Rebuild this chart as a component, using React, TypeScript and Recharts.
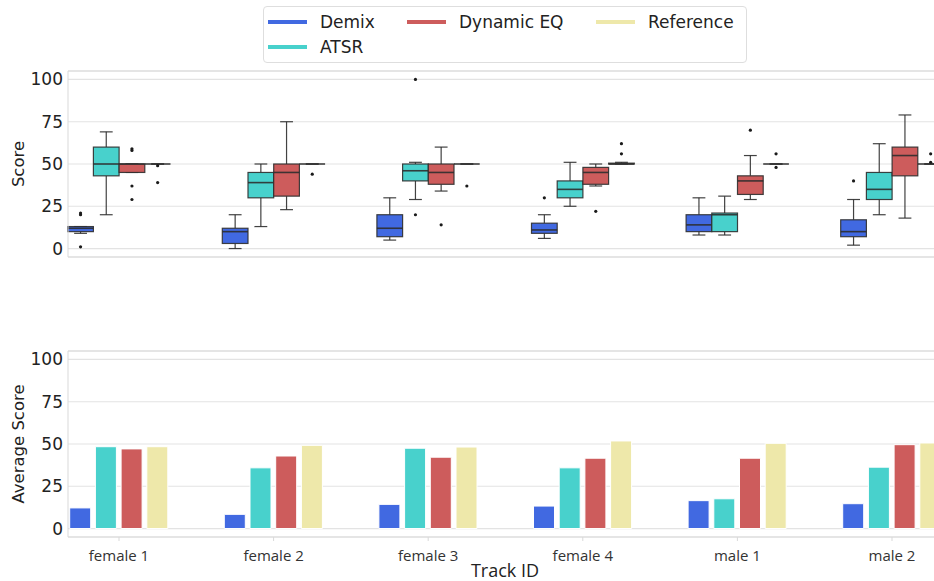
import React from "react";
import {
  ComposedChart,
  BarChart,
  Bar,
  XAxis,
  YAxis,
  CartesianGrid,
  ReferenceLine,
  Legend,
} from "recharts";

// track ids on the x axis
const categories = ["female 1", "female 2", "female 3", "female 4", "male 1", "male 2"];

// box stats per track: [whisker low, q1, median, q3, whisker high]
const demixBox = [
  [9, 10, 12, 13, 13],
  [0, 3, 10, 12, 20],
  [5, 7, 12, 20, 30],
  [6, 9, 11, 15, 20],
  [8, 10, 14, 20, 30],
  [2, 7, 10, 17, 29],
];
const atsrBox = [
  [20, 43, 50, 60, 69],
  [13, 30, 39, 45, 50],
  [29, 40, 46, 50, 51],
  [25, 30, 35, 40, 51],
  [8, 10, 20, 21, 31],
  [20, 29, 35, 45, 62],
];
const dynEqBox = [
  [45, 45, 50, 50, 50],
  [23, 31, 45, 50, 75],
  [34, 38, 45, 50, 60],
  [37, 38, 45, 48, 50],
  [29, 32, 40, 43, 55],
  [18, 43, 55, 60, 79],
];
const refBox = [
  [50, 50, 50, 50, 50],
  [50, 50, 50, 50, 50],
  [50, 50, 50, 50, 50],
  [50, 50, 50, 50.5, 51],
  [50, 50, 50, 50, 50],
  [50, 50, 50, 50, 50],
];

// fliers per track
const demixOutliers = [[21, 20, 1], [], [], [30], [], [40]];
const atsrOutliers = [[], [], [100, 20], [], [], []];
const dynEqOutliers = [[59, 58, 37, 29], [], [14], [22], [70], []];
const refOutliers = [[49, 39], [44], [37], [62, 56], [56, 48], [56, 51]];

// mean score per track
const demixAvg = [12.2, 8.4, 14.3, 13.3, 16.5, 14.7];
const atsrAvg = [48.4, 35.9, 47.5, 35.9, 17.6, 36.3];
const dynEqAvg = [47.1, 42.9, 42.2, 41.6, 41.6, 49.6];
const refAvg = [48.4, 49.2, 48.2, 51.8, 50.4, 50.6];

const yTicks = [0, 25, 50, 75, 100];
const yDomain: [number, number] = [-5, 105];

const series = [
  { name: "Demix", color: "#4169E1", box: demixBox, out: demixOutliers, avg: demixAvg },
  { name: "ATSR", color: "#48D1CC", box: atsrBox, out: atsrOutliers, avg: atsrAvg },
  { name: "Dynamic EQ", color: "#CD5C5C", box: dynEqBox, out: dynEqOutliers, avg: dynEqAvg },
  { name: "Reference", color: "#EEE8AA", box: refBox, out: refOutliers, avg: refAvg },
];

const boxRows = categories.map((track, i) => {
  const row: any = { track };
  series.forEach((s) => {
    row[s.name] = { stats: s.box[i], out: s.out[i] };
  });
  return row;
});

const avgRows = categories.map((track, i) => {
  const row: any = { track };
  series.forEach((s) => {
    row[s.name] = s.avg[i];
  });
  return row;
});

const SANS = "'DejaVu Sans', sans-serif";
const TICK_FONT = "'Open Sans', sans-serif";
const GRID = "#e3e3e3";
const SPINE = "#d9d9d9";
const LINE = "rgba(45,45,45,0.9)";

// bar spans 0..whisker high, so its pixel height gives the y scale
const makeBox = (key: string, color: string) => (props: any) => {
  const { x, y, width, height, payload } = props;
  const b = payload[key];
  const [lo, q1, med, q3, hi] = b.stats;
  const base = y + height;
  const k = hi !== 0 ? height / hi : 0;
  const py = (v: number) => base - v * k;
  const cx = x + width / 2;
  const cap = width / 4;
  return (
    <g>
      <line x1={cx} x2={cx} y1={py(q3)} y2={py(hi)} stroke={LINE} strokeWidth={1.2} />
      <line x1={cx} x2={cx} y1={py(q1)} y2={py(lo)} stroke={LINE} strokeWidth={1.2} />
      <line x1={cx - cap} x2={cx + cap} y1={py(hi)} y2={py(hi)} stroke={LINE} strokeWidth={1.2} />
      <line x1={cx - cap} x2={cx + cap} y1={py(lo)} y2={py(lo)} stroke={LINE} strokeWidth={1.2} />
      <rect
        x={x}
        y={py(q3)}
        width={width}
        height={Math.max(py(q1) - py(q3), 0)}
        fill={color}
        stroke={LINE}
        strokeWidth={1.2}
      />
      <line x1={x} x2={x + width} y1={py(med)} y2={py(med)} stroke={LINE} strokeWidth={1.6} />
      {b.out.map((v: number, j: number) => (
        <circle key={j} cx={cx} cy={py(v)} r={1.6} fill="#1a1a1a" />
      ))}
    </g>
  );
};

// matplotlib fills legend columns top to bottom: Demix/ATSR, Dynamic EQ, Reference
const legendSlots: Record<string, [number, number]> = {
  Demix: [1, 1],
  ATSR: [2, 1],
  "Dynamic EQ": [1, 2],
  Reference: [1, 3],
};

const LegendBox = () => (
  <div
    style={{
      width: 484,
      height: 57,
      boxSizing: "border-box",
      border: "1px solid #dedede",
      borderRadius: 4,
      padding: "2px 0 0 4px",
      display: "grid",
      gridTemplateRows: "25px 25px",
      gridTemplateColumns: "139px 189px 150px",
      fontFamily: SANS,
      fontSize: 17,
      color: "#222",
      background: "#fff",
    }}
  >
    {series.map((s) => (
      <div
        key={s.name}
        style={{
          display: "flex",
          alignItems: "center",
          whiteSpace: "nowrap",
          gridRow: legendSlots[s.name][0],
          gridColumn: legendSlots[s.name][1],
        }}
      >
        <span style={{ display: "inline-block", width: 39, height: 4, background: s.color, marginRight: 13 }} />
        {s.name}
      </div>
    ))}
  </div>
);

const yLabel = (text: string) => (p: any) => {
  const vb = p.viewBox;
  const cx = vb.x + 18;
  const cy = vb.y + vb.height / 2;
  return (
    <text
      x={cx}
      y={cy}
      transform={`rotate(-90, ${cx}, ${cy})`}
      textAnchor="middle"
      dominantBaseline="central"
      fontFamily={SANS}
      fontSize={16.5}
      fill="#222"
    >
      {text}
    </text>
  );
};

const xPad = { left: -26.3, right: -35.3 };

export default function App() {
  return (
    <div style={{ position: "absolute", left: 0, top: 0, width: 934, height: 581, background: "#fff" }}>
      <div style={{ position: "absolute", left: 0, top: 0 }}>
        <ComposedChart
          width={934}
          height={270}
          data={boxRows}
          margin={{ top: 71, right: 0, bottom: 0, left: 0 }}
          barSize={25.7}
          barGap={0}
        >
          <CartesianGrid vertical={false} stroke={GRID} strokeWidth={1.2} />
          <XAxis
            dataKey="track"
            height={13}
            padding={xPad}
            tick={false}
            tickSize={4}
            tickLine={{ stroke: SPINE }}
            axisLine={{ stroke: SPINE }}
          />
          <YAxis
            width={68}
            domain={yDomain}
            ticks={yTicks}
            tickSize={0}
            tickMargin={5}
            axisLine={{ stroke: SPINE }}
            tick={{ fontFamily: SANS, fontSize: 17, fill: "#222" }}
            label={{ content: yLabel("Score") }}
          />
          <ReferenceLine y={yDomain[1]} stroke={SPINE} />
          <Legend
            layout="horizontal"
            verticalAlign="middle"
            align="center"
            wrapperStyle={{ top: 6, left: 263, width: 484 }}
            content={() => <LegendBox />}
          />
          {series.map((s) => (
            <Bar
              key={s.name}
              dataKey={(d: any) => d[s.name].stats[4]}
              name={s.name}
              fill={s.color}
              shape={makeBox(s.name, s.color)}
              isAnimationActive={false}
            />
          ))}
        </ComposedChart>
      </div>
      <div style={{ position: "absolute", left: 0, top: 340 }}>
        <BarChart
          width={934}
          height={241}
          data={avgRows}
          margin={{ top: 11, right: 0, bottom: 0, left: 0 }}
          barSize={21}
          barGap={4.7}
        >
          <CartesianGrid vertical={false} stroke={GRID} strokeWidth={1.2} />
          <XAxis
            dataKey="track"
            height={44}
            padding={xPad}
            tickSize={4}
            tickMargin={9}
            tickLine={{ stroke: SPINE }}
            axisLine={{ stroke: SPINE }}
            tick={{ fontFamily: TICK_FONT, fontSize: 15, fill: "#333" }}
            label={{
              value: "Track ID",
              position: "insideBottom",
              offset: 4,
              dx: 4,
              style: { fontFamily: TICK_FONT, fontSize: 18, fill: "#222" },
            }}
          />
          <YAxis
            width={68}
            domain={yDomain}
            ticks={yTicks}
            tickSize={0}
            tickMargin={5}
            axisLine={{ stroke: SPINE }}
            tick={{ fontFamily: SANS, fontSize: 17, fill: "#222" }}
            label={{ content: yLabel("Average Score") }}
          />
          <ReferenceLine y={yDomain[1]} stroke={SPINE} />
          {series.map((s) => (
            <Bar
              key={s.name}
              dataKey={s.name}
              fill={s.color}
              stroke="#fff"
              strokeWidth={1}
              isAnimationActive={false}
            />
          ))}
        </BarChart>
      </div>
    </div>
  );
}
